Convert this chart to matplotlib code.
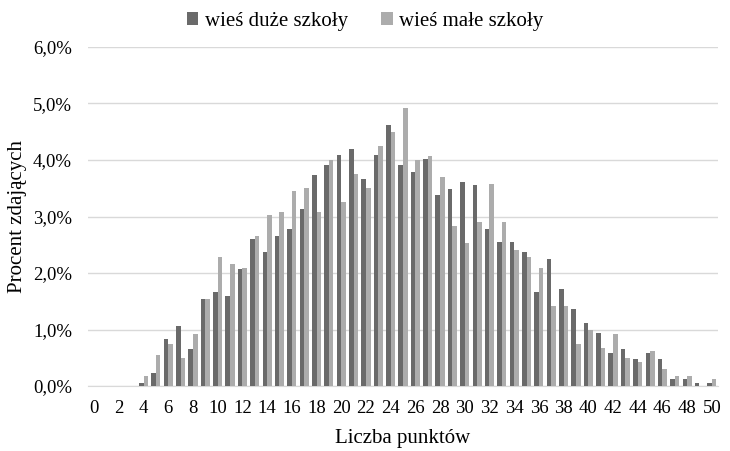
import numpy as np
import matplotlib.pyplot as plt
from matplotlib.ticker import FuncFormatter

plt.rcParams['font.family'] = ['Liberation Serif', 'DejaVu Serif']

# points 0..50
points = np.arange(0, 51)

# share of students (%) - rural, large schools
duze = [0, 0, 0, 0, 0.05, 0.23, 0.83, 1.06, 0.65, 1.54,
        1.66, 1.60, 2.07, 2.60, 2.37, 2.65, 2.78, 3.13, 3.73, 3.91,
        4.09, 4.19, 3.66, 4.09, 4.62, 3.91, 3.79, 4.02, 3.38, 3.49,
        3.61, 3.56, 2.78, 2.55, 2.55, 2.37, 1.66, 2.25, 1.72, 1.36,
        1.11, 0.94, 0.58, 0.65, 0.48, 0.58, 0.48, 0.12, 0.12, 0.05,
        0.05]

# share of students (%) - rural, small schools
male = [0, 0, 0, 0, 0.18, 0.55, 0.74, 0.50, 0.92, 1.54,
        2.28, 2.16, 2.09, 2.65, 3.03, 3.08, 3.45, 3.50, 3.08, 4.00,
        3.26, 3.75, 3.50, 4.25, 4.50, 4.92, 4.00, 4.07, 3.70, 2.83,
        2.53, 2.90, 3.58, 2.90, 2.41, 2.28, 2.09, 1.42, 1.42, 0.74,
        0.99, 0.67, 0.92, 0.49, 0.42, 0.62, 0.30, 0.18, 0.18, 0,
        0.12]

labels = ['wieś duże szkoły', 'wieś małe szkoły']

fig = plt.figure(figsize=(7.3, 4.51), dpi=100)
ax = fig.add_axes([0.1205, 0.1441, 0.8631, 0.7517])

w = 0.37
ax.bar(points - w / 2, duze, width=w, color='#6a6a6a', label=labels[0], zorder=3)
ax.bar(points + w / 2, male, width=w, color='#acacac', label=labels[1], zorder=3)

ax.set_xlim(-0.5, 50.5)
ax.set_ylim(0, 6)
ax.set_yticks(np.arange(0, 6.1, 1))
ax.yaxis.set_major_formatter(FuncFormatter(lambda v, p: ('%.1f%%' % v).replace('.', ',')))
ax.set_xticks(np.arange(0, 51, 2))

ax.grid(axis='y', color='#d9d9d9', linewidth=1, zorder=0)
for s in ['top', 'right', 'left']:
    ax.spines[s].set_visible(False)
ax.spines['bottom'].set_color('#d9d9d9')
ax.tick_params(length=0, labelsize=13.5)
ax.tick_params(axis='x', pad=10)
ax.tick_params(axis='y', pad=11.5)

ax.set_xlabel('Liczba punktów', fontsize=15, labelpad=9)
ax.set_ylabel('Procent zdających', fontsize=15, labelpad=8)
ax.yaxis.set_label_coords(-0.096, 0.5)

fig.legend(loc='upper center', bbox_to_anchor=(0.5, 1.015), ncol=2, frameon=False,
           fontsize=15, handlelength=0.55, handleheight=0.55, handletextpad=0.3,
           columnspacing=1.6)

fig.savefig('out.png', dpi=100)
